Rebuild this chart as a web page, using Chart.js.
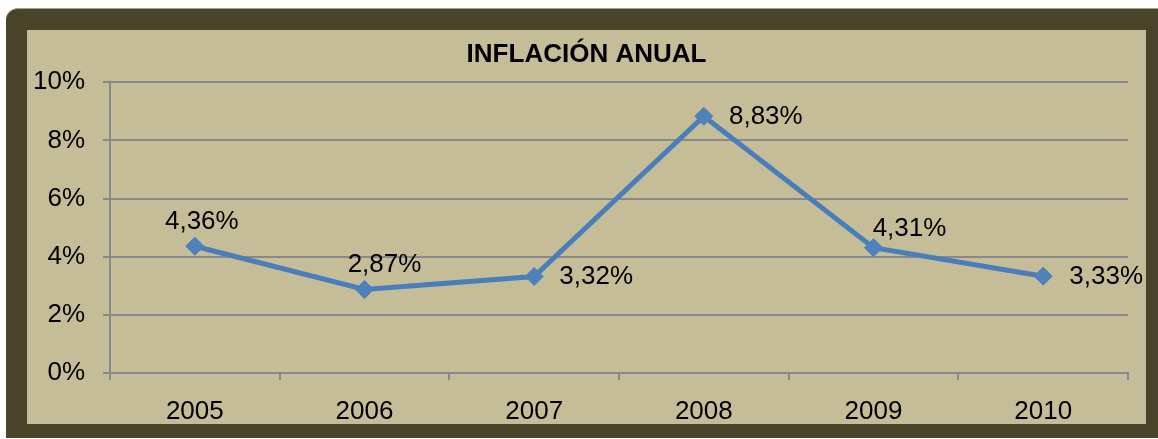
<!DOCTYPE html>
<html lang="es">
<head>
  <meta charset="UTF-8">
  <title>Inflación anual</title>
  <script src="https://cdn.jsdelivr.net/npm/chart.js"></script>
  <style>
    body {
      margin: 0;
      background: #ffffff;
      font-family: "Liberation Sans", Arial, sans-serif;
    }
    .marco {
      position: absolute;
      left: 6px;
      top: 8px;
      width: 1152px;
      height: 430px;
      background: #4a452a;
      border-top: 1px solid #a8a290;
      border-top-left-radius: 12px;
      box-sizing: border-box;
    }
    .fondo {
      position: absolute;
      left: 27px;
      top: 30px;
      width: 1119px;
      height: 394px;
      background: #c4bd97;
    }
  </style>
</head>
<body>
  <div class="marco"></div>
  <div class="fondo">
    <canvas id="grafico" width="1119" height="394"></canvas>
  </div>

  <script>
    // datos
    const anios = ['2005', '2006', '2007', '2008', '2009', '2010'];
    const inflacion = [4.36, 2.87, 3.32, 8.83, 4.31, 3.33];
    const ticksY = [0, 2, 4, 6, 8, 10];

    // desplazamiento de cada etiqueta respecto al punto (centro del texto)
    const desplazamientos = [[7, -24], [20, -25], [62, 0], [62, 1], [36, -19], [63, 1]];

    const gris = '#898989';
    const fuente = "'Liberation Sans', Arial, sans-serif";

    const etiquetas = {
      id: 'etiquetas',
      afterDatasetsDraw(chart) {
        const ctx = chart.ctx;
        const puntos = chart.getDatasetMeta(0).data;
        ctx.save();
        ctx.font = '26px ' + fuente;
        ctx.fillStyle = '#000000';
        ctx.textAlign = 'center';
        ctx.textBaseline = 'middle';
        puntos.forEach((p, i) => {
          const txt = inflacion[i].toFixed(2).replace('.', ',') + '%';
          const d = desplazamientos[i];
          ctx.fillText(txt, p.x + d[0], p.y + d[1]);
        });
        ctx.restore();
      }
    };

    const ctx = document.getElementById('grafico').getContext('2d');
    new Chart(ctx, {
      type: 'line',
      data: {
        labels: anios,
        datasets: [{
          label: 'Inflación',
          data: inflacion,
          borderColor: '#4a7ebb',
          borderWidth: 5,
          backgroundColor: '#4f81bd',
          pointStyle: 'rectRot',
          pointRadius: 9,
          pointBorderWidth: 1,
          pointBorderColor: '#4a7ebb',
          pointBackgroundColor: '#4f81bd',
          tension: 0
        }]
      },
      options: {
        responsive: false,
        animation: false,
        layout: { padding: 0 },
        plugins: {
          legend: { display: false },
          tooltip: { enabled: false },
          title: {
            display: true,
            text: 'INFLACIÓN ANUAL',
            color: '#000000',
            font: { family: fuente, size: 26, weight: 'bold', lineHeight: 1.2 },
            padding: { top: 9, bottom: 12 }
          }
        },
        scales: {
          x: {
            offset: true,
            afterFit: (s) => { s.height = 51; },
            grid: {
              offset: true,
              drawOnChartArea: false,
              tickLength: 7,
              color: gris,
              lineWidth: 2
            },
            border: { display: true, color: gris, width: 2 },
            ticks: {
              color: '#000000',
              padding: 16,
              font: { family: fuente, size: 26, lineHeight: 1.2 }
            }
          },
          y: {
            min: ticksY[0],
            max: ticksY[ticksY.length - 1],
            afterFit: (s) => { s.width = 83; },
            afterBuildTicks: (s) => { s.ticks = ticksY.map(v => ({ value: v })); },
            grid: {
              color: gris,
              lineWidth: 2,
              tickLength: 7
            },
            border: { display: true, color: gris, width: 2 },
            ticks: {
              color: '#000000',
              padding: 18,
              font: { family: fuente, size: 26, lineHeight: 1.2 },
              callback: (v) => v + '%'
            }
          },
          // margen derecho vacío, para que el título quede centrado en todo el lienzo
          margen: {
            position: 'right',
            min: 0,
            max: 10,
            afterFit: (s) => { s.width = 18; },
            grid: { display: false },
            border: { display: false },
            ticks: { display: false }
          }
        }
      },
      plugins: [etiquetas]
    });
  </script>
</body>
</html>
